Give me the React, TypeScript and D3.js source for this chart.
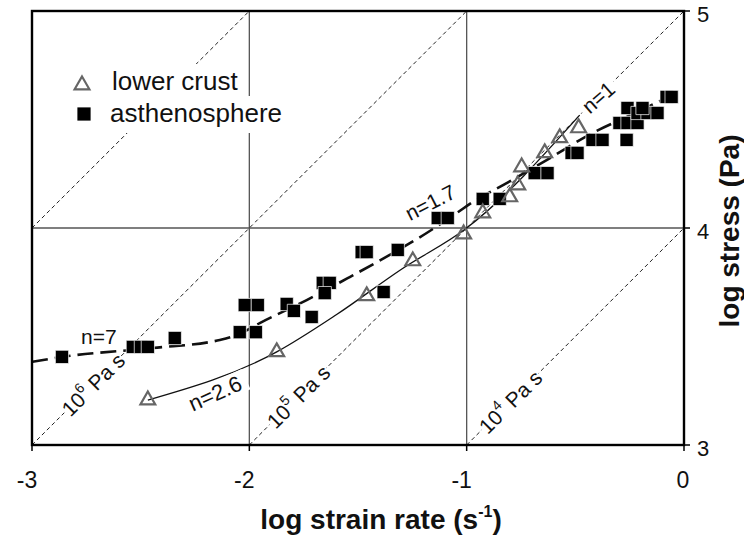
import React from 'react'
import * as d3 from 'd3'

// asthenosphere samples (log strain rate, log stress)
const astheX = [-2.862, -2.536, -2.499, -2.467, -2.343, -2.044, -1.970, -2.021, -1.961, -1.828, -1.795, -1.713,
  -1.662, -1.630, -1.653, -1.382, -1.483, -1.460, -1.317, -1.133, -1.087, -0.926, -0.848, -0.687, -0.628,
  -0.517, -0.490, -0.421, -0.375, -0.264, -0.297, -0.260, -0.214, -0.260, -0.214, -0.168, -0.122, -0.191,
  -0.080, -0.057]
const astheY = [3.406, 3.452, 3.452, 3.452, 3.493, 3.52, 3.52, 3.645, 3.645, 3.650, 3.618, 3.590,
  3.747, 3.747, 3.70, 3.705, 3.889, 3.889, 3.899, 4.046, 4.046, 4.134, 4.134, 4.253, 4.253,
  4.346, 4.346, 4.406, 4.406, 4.406, 4.484, 4.484, 4.484, 4.553, 4.530, 4.530, 4.530, 4.553,
  4.604, 4.604]

// lower crust samples
const crustX = [-2.467, -1.874, -1.460, -1.248, -1.014, -0.926, -0.802, -0.765, -0.747, -0.641, -0.572, -0.485]
const crustY = [3.207, 3.429, 3.687, 3.848, 3.972, 4.069, 4.143, 4.198, 4.281, 4.346, 4.415, 4.461]

// fitted flow laws
const astheFitX = [-3, -2.862, -2.444, -2.136, -2.057, -1.952, -1.736, -1.538, -1.354, -1.184, -1.046, -0.972, -0.816, -0.632, -0.421, -0.264, -0.021]
const astheFitY = [3.383, 3.406, 3.447, 3.484, 3.507, 3.562, 3.668, 3.774, 3.876, 3.977, 4.069, 4.120, 4.207, 4.313, 4.438, 4.512, 4.627]
const crustFitX = [-2.467, -1.874, -1.6, -1.3, -1.0, -0.48]
const crustFitY = [3.207, 3.429, 3.60, 3.81, 4.0, 4.52]

// constant viscosity lines, log10 (Pa s)
const viscosities = [7, 6, 5, 4]

const xTicks = [-3, -2, -1, 0]
const yTicks = [3, 4, 5]

const font = 'Liberation Sans, Arial, sans-serif'

export default function App() {
  const x = d3.scaleLinear().domain([-3, 0]).range([32, 684])
  const y = d3.scaleLinear().domain([3, 5]).range([445, 11])

  const line = d3.line<[number, number]>().x(d => x(d[0])).y(d => y(d[1])).curve(d3.curveMonotoneX)
  const astheFit = astheFitX.map((v, i) => [v, astheFitY[i]] as [number, number])
  const crustFit = crustFitX.map((v, i) => [v, crustFitY[i]] as [number, number])

  const viscLines = viscosities.map(eta => {
    const x0 = Math.max(-3, 3 - eta)
    const x1 = Math.min(0, 5 - eta)
    return {eta, x0, x1}
  })
  const angle = Math.atan2(y(1) - y(0), x(1) - x(0)) * 180 / Math.PI

  const tri = d3.symbol(d3.symbolTriangle, 95)()
  const sq = d3.symbol(d3.symbolSquare, 175)()

  // label on a viscosity line, with a white band hiding the dashes
  const viscLabel = (eta: number, at: number, w: number) => {
    const cx = x(at), cy = y(eta + at)
    return (
      <g key={'vl' + eta} transform={`translate(${cx},${cy}) rotate(${angle})`}>
        <rect x={-w / 2} y={-9} width={w} height={18} fill="#fff" />
        <text textAnchor="middle" y={8} fontSize={21} fontFamily={font} fill="#111">
          10<tspan fontSize={14} dy={-10}>{eta}</tspan><tspan dy={10}> Pa s</tspan>
        </text>
      </g>
    )
  }

  return (
    <svg width={744} height={536} style={{position: 'absolute', left: 0, top: 0, background: '#fff'}}>
      {/* grid */}
      {[-2, -1].map(v => (
        <line key={'gx' + v} x1={x(v)} x2={x(v)} y1={y(3)} y2={y(5)} stroke="#555" strokeWidth={1.3} />
      ))}
      <line x1={x(-3)} x2={x(0)} y1={y(4)} y2={y(4)} stroke="#555" strokeWidth={1.3} />

      {/* viscosity lines */}
      {viscLines.map(d => (
        <line key={'v' + d.eta} x1={x(d.x0)} y1={y(d.eta + d.x0)} x2={x(d.x1)} y2={y(d.eta + d.x1)}
          stroke="#222" strokeWidth={1} strokeDasharray="4,3" />
      ))}

      {/* legend backdrop */}
      <rect x={70} y={64} width={174} height={32} fill="#fff" />
      <rect x={70} y={96} width={220} height={37} fill="#fff" />

      {viscLabel(6, -2.72, 80)}
      {viscLabel(5, -1.776, 80)}
      {viscLabel(4, -0.80, 80)}

      {/* n=1 on the 1e5 line */}
      <g transform={`translate(${x(-0.396)},${y(4.604)}) rotate(${angle + 4})`}>
        <rect x={-22} y={-9} width={44} height={18} fill="#fff" />
        <text textAnchor="middle" y={8} fontSize={21} fontFamily={font} fill="#111">n=1</text>
      </g>

      {/* fits */}
      <path d={line(crustFit) || ''} fill="none" stroke="#111" strokeWidth={1.3} />
      <path d={line(astheFit) || ''} fill="none" stroke="#111" strokeWidth={2.6} strokeDasharray="16,7" />

      <text x={81} y={344} fontSize={21} fontFamily={font} fill="#111">n=7</text>
      <g transform="translate(430,202) rotate(-27)">
        <text textAnchor="middle" y={8} fontSize={21} fontFamily={font} fill="#111">n=1.7</text>
      </g>
      <g transform="translate(215,393) rotate(-24)">
        <rect x={-32} y={-11} width={66} height={22} fill="#fff" />
        <text textAnchor="middle" y={8} fontSize={22} fontFamily={font} fill="#111">n=2.6</text>
      </g>

      {/* data */}
      {astheX.map((v, i) => (
        <path key={'a' + i} d={sq || ''} transform={`translate(${x(v)},${y(astheY[i])})`}
          fill="#000" stroke="#fff" strokeWidth={0.7} />
      ))}
      {crustX.map((v, i) => (
        <path key={'c' + i} d={tri || ''} transform={`translate(${x(v)},${y(crustY[i])})`}
          fill="none" stroke="#666" strokeWidth={2.2} />
      ))}

      {/* frame */}
      <rect x={x(-3)} y={y(5)} width={x(0) - x(-3)} height={y(3) - y(5)} fill="none" stroke="#000" strokeWidth={2.4} />

      {/* ticks */}
      {xTicks.map(v => (
        <g key={'xt' + v}>
          <line x1={x(v)} x2={x(v)} y1={y(3)} y2={y(3) + 6} stroke="#000" strokeWidth={1.5} />
          <text x={x(v) + (v < 0 ? -5 : -1)} y={488} textAnchor="middle" fontSize={23} fontFamily={font} fill="#111">{v}</text>
        </g>
      ))}
      {yTicks.map(v => (
        <g key={'yt' + v}>
          <line x1={x(0)} x2={x(0) + 6} y1={y(v)} y2={y(v)} stroke="#000" strokeWidth={1.5} />
          <text x={697} y={y(v) + 11} fontSize={22} fontFamily={font} fill="#111">{v}</text>
        </g>
      ))}

      {/* axis titles */}
      <text x={381} y={529} textAnchor="middle" fontSize={28} fontWeight="bold" fontFamily={font} fill="#111">
        log strain rate (s<tspan fontSize={16} dy={-12}>-1</tspan><tspan dy={12}>)</tspan>
      </text>
      <text transform="translate(739,231) rotate(-90)" textAnchor="middle" fontSize={28} fontWeight="bold" fontFamily={font} fill="#111">
        log stress (Pa)
      </text>

      {/* legend */}
      <path d={tri || ''} transform="translate(82,85)" fill="#fff" stroke="#666" strokeWidth={2.2} />
      <text x={112} y={90} fontSize={26} fontFamily={font} fill="#111">lower crust</text>
      <path d={sq || ''} transform="translate(84,114)" fill="#000" />
      <text x={110} y={122} fontSize={26} fontFamily={font} fill="#111">asthenosphere</text>
    </svg>
  )
}
